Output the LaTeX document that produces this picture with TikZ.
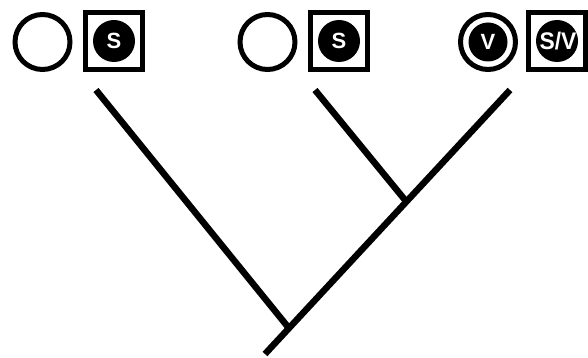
\documentclass[tikz,border=0pt]{standalone}
\usepackage{fontspec}
\setmainfont{Liberation Sans}
\begin{document}
\begin{tikzpicture}[x=1pt,y=-1pt,
  ring/.style={circle,draw=black,line width=5pt,minimum size=55pt,inner sep=0pt},
  boxsq/.style={rectangle,draw=black,line width=4.5pt,minimum size=57pt,inner sep=0pt},
  dot/.style={circle,fill=black,minimum size=42pt,inner sep=0pt,text=white,font=\bfseries\fontsize{22}{22}\selectfont},
  branch/.style={line width=6.5pt,line cap=butt}]
\useasboundingbox (0,0) rectangle (588,358);
% taxa
\node[ring] (c1) at (42.5,42) {};
\node[boxsq] (s1) at (114,41) {};
\node[dot] (d1) at (114,41) {S};
\node[ring] (c2) at (267.5,42) {};
\node[boxsq] (s2) at (339,41) {};
\node[dot] (d2) at (339,41) {S};
\node[ring] (c3) at (488,42) {};
\node[dot,minimum size=39pt] (d3) at (488,42) {V};
\node[boxsq] (s3) at (557,41) {};
\node[circle,fill=black,minimum size=42pt,inner sep=0pt] (d4) at (557,41) {};
\node[text=white,inner sep=0pt,font=\bfseries\fontsize{24}{24}\selectfont,xscale=0.95] (l4) at (558,41.5) {S/V};
% tree
\coordinate (t1) at (96,90);
\coordinate (t2) at (315,90);
\coordinate (t3) at (510,90);
\coordinate (j1) at (405,200);
\coordinate (j2) at (288,327);
\coordinate (root) at (265,354);
\draw[branch] (t3) -- (root);
\draw[branch] (t1) -- (j2);
\draw[branch] (t2) -- (j1);
\end{tikzpicture}
\end{document}
